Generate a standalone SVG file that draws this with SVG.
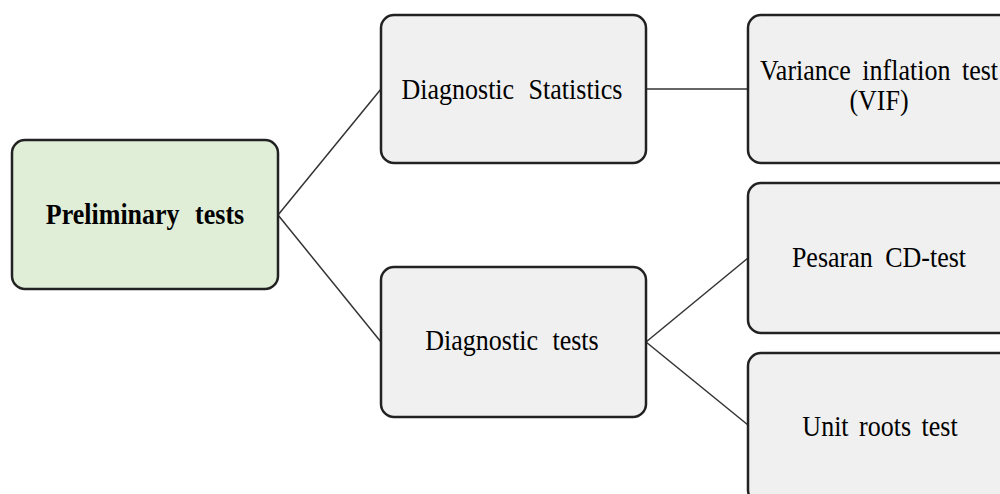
<svg xmlns="http://www.w3.org/2000/svg" width="1000" height="494" viewBox="0 0 1000 494">
<style>
.box{fill:#f0f0f0;stroke:#222;stroke-width:2.5}
.root{fill:#e0eed8;stroke:#222;stroke-width:2.5}
.t{font-family:"Liberation Serif","Times New Roman",serif;font-size:26px;fill:#000;text-anchor:middle}
.b{font-weight:bold}
.conn line{stroke:#333;stroke-width:1.5}
</style>
<rect width="1000" height="494" fill="#fff"/>
<g id="connectors" class="conn">
<line x1="278" y1="215" x2="381" y2="89"/>
<line x1="278" y1="215" x2="381" y2="342"/>
<line x1="646" y1="89" x2="748" y2="89"/>
<line x1="646" y1="342" x2="748" y2="258"/>
<line x1="646" y1="342" x2="748" y2="425"/>
</g>
<g id="preliminary">
<rect class="root" x="12" y="140" width="266" height="149" rx="13"/>
<text class="t b" transform="translate(145,224) scale(1,1.12)" word-spacing="9">Preliminary tests</text>
</g>
<g id="diag-stat">
<rect class="box" x="381" y="15" width="265" height="148" rx="13"/>
<text class="t" transform="translate(512,99) scale(1,1.12)" word-spacing="8">Diagnostic Statistics</text>
</g>
<g id="diag-tests">
<rect class="box" x="381" y="267" width="265" height="150" rx="13"/>
<text class="t" transform="translate(512,350) scale(1,1.12)" word-spacing="8">Diagnostic tests</text>
</g>
<g id="vif">
<rect class="box" x="748" y="15" width="265" height="148" rx="13"/>
<text class="t" transform="translate(879,80) scale(1,1.12)" word-spacing="5">Variance inflation test</text>
<text class="t" transform="translate(879,110) scale(1,1.12)">(VIF)</text>
</g>
<g id="pesaran">
<rect class="box" x="748" y="183" width="265" height="150" rx="13"/>
<text class="t" transform="translate(879,267) scale(1,1.12)" word-spacing="6">Pesaran CD-test</text>
</g>
<g id="unit-roots">
<rect class="box" x="748" y="353" width="265" height="150" rx="13"/>
<text class="t" transform="translate(880,436) scale(1,1.12)" word-spacing="4">Unit roots test</text>
</g>
</svg>
